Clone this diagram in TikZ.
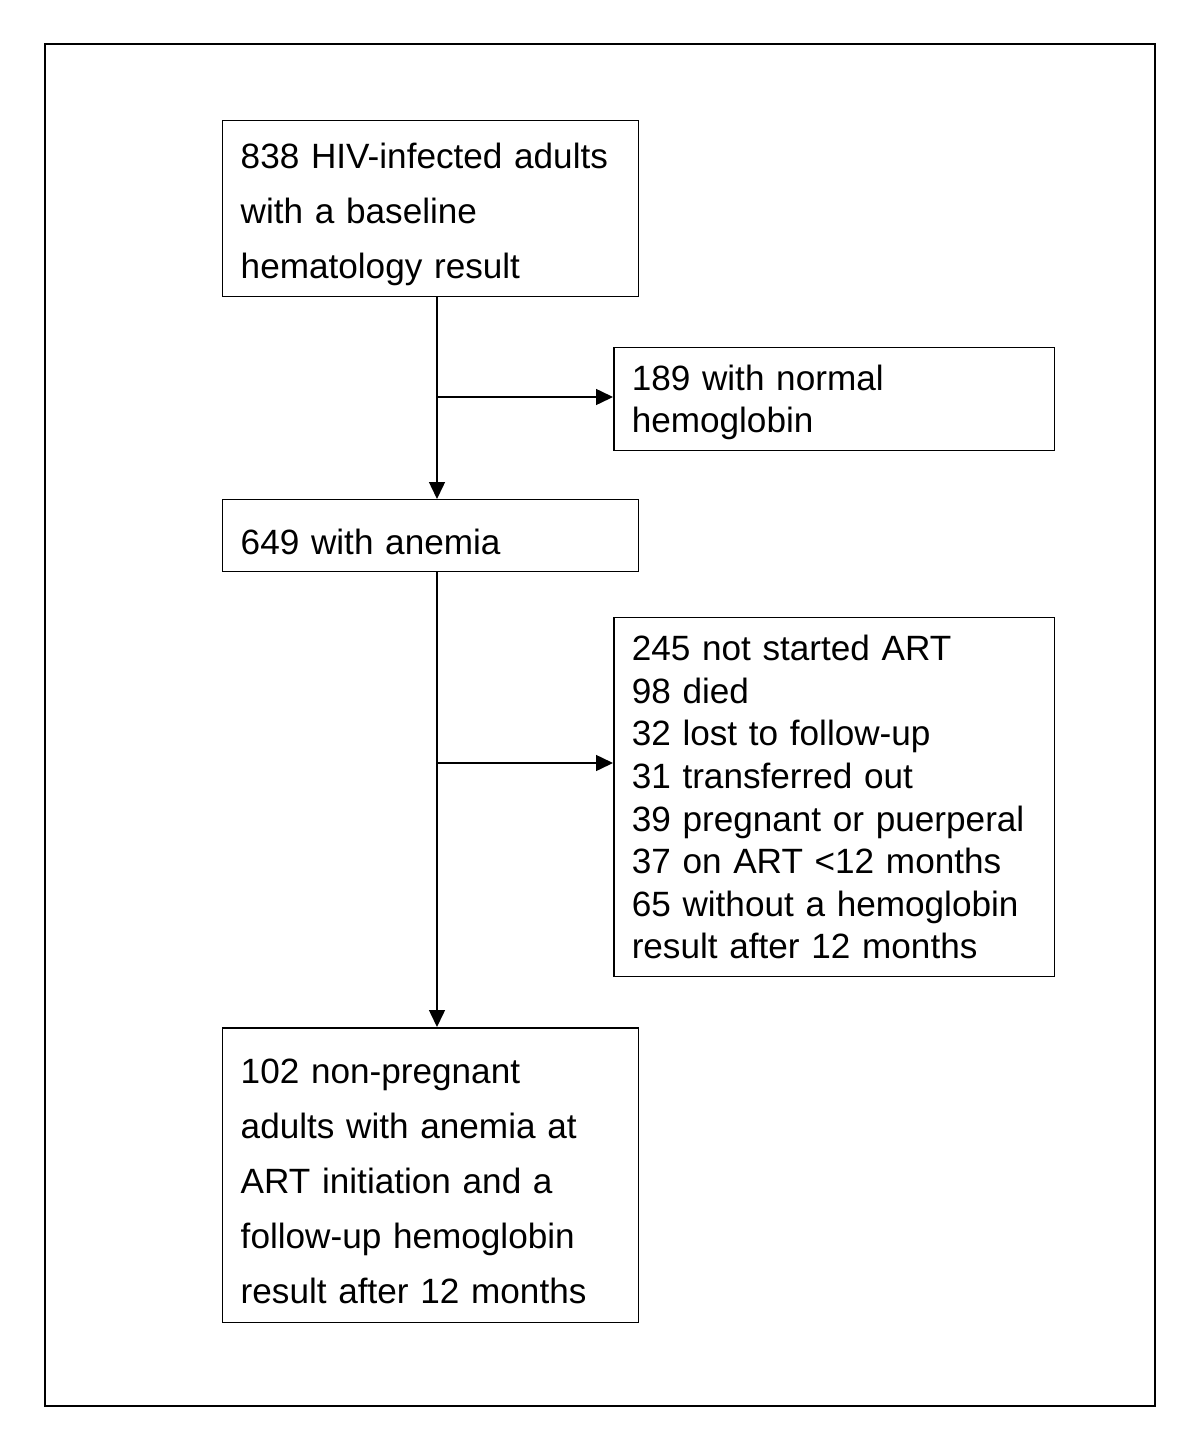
\documentclass[tikz,border=0pt]{standalone}
\usepackage{fontspec}
\setmainfont{Liberation Sans}
\usetikzlibrary{arrows, arrows.meta}
\usetikzlibrary{calc}

\tikzset{
  basebox/.style={draw, rectangle, line width=0.85pt, anchor=north west, align=left,
    inner xsep=0.36cm, inner ysep=0pt},
  flowbox/.style={basebox, execute at begin node={\rule{0pt}{21.5pt}},
    font=\fontsize{20}{31.3}\selectfont},
  sidebox/.style={basebox, font=\fontsize{20}{24.2}\selectfont},
  arr/.style={line width=0.85pt, -{Triangle[length=0.34cm, width=0.32cm]}}
}

\begin{document}
\begin{tikzpicture}[x=0.02cm, y=-0.02cm]
      \useasboundingbox (0,0) rectangle (1200,1449);
      \draw[line width=0.85pt] (45,44) rectangle (1155,1406);

      \node[flowbox, text width=7.6cm, minimum width=8.32cm, minimum height=3.52cm] (hiv) at (222,120)
        {838 HIV-infected adults\\with a baseline\\hematology result};
      \node[sidebox, text width=8.1cm, minimum width=8.82cm, minimum height=2.06cm] (normal) at (613,347)
        {\rule{0pt}{18pt}189 with normal\\hemoglobin};
      \node[flowbox, text width=7.6cm, minimum width=8.32cm, minimum height=1.44cm] (anemia) at (222,499)
        {649 with anemia};
      \node[sidebox, text width=8.1cm, minimum width=8.82cm, minimum height=7.18cm] (excluded) at (613,617)
        {245 not started ART\\98 died\\32 lost to follow-up\\31 transferred out\\39 pregnant or puerperal\\37 on ART <12 months\\65 without a hemoglobin\\result after 12 months};
      \node[flowbox, text width=7.6cm, minimum width=8.32cm, minimum height=5.9cm] (final) at (222,1027)
        {102 non-pregnant\\adults with anemia at\\ART initiation and a\\follow-up hemoglobin\\result after 12 months};

      \coordinate (split1) at (437,397);
      \coordinate (split2) at (437,763);

      \draw[arr] (hiv.south -| split1) -- (anemia.north -| split1);
      \draw[arr] (split1) -- (normal.west |- split1);
      \draw[arr] (anemia.south -| split2) -- (final.north -| split2);
      \draw[arr] (split2) -- (excluded.west |- split2);
    \end{tikzpicture}
\end{document}
